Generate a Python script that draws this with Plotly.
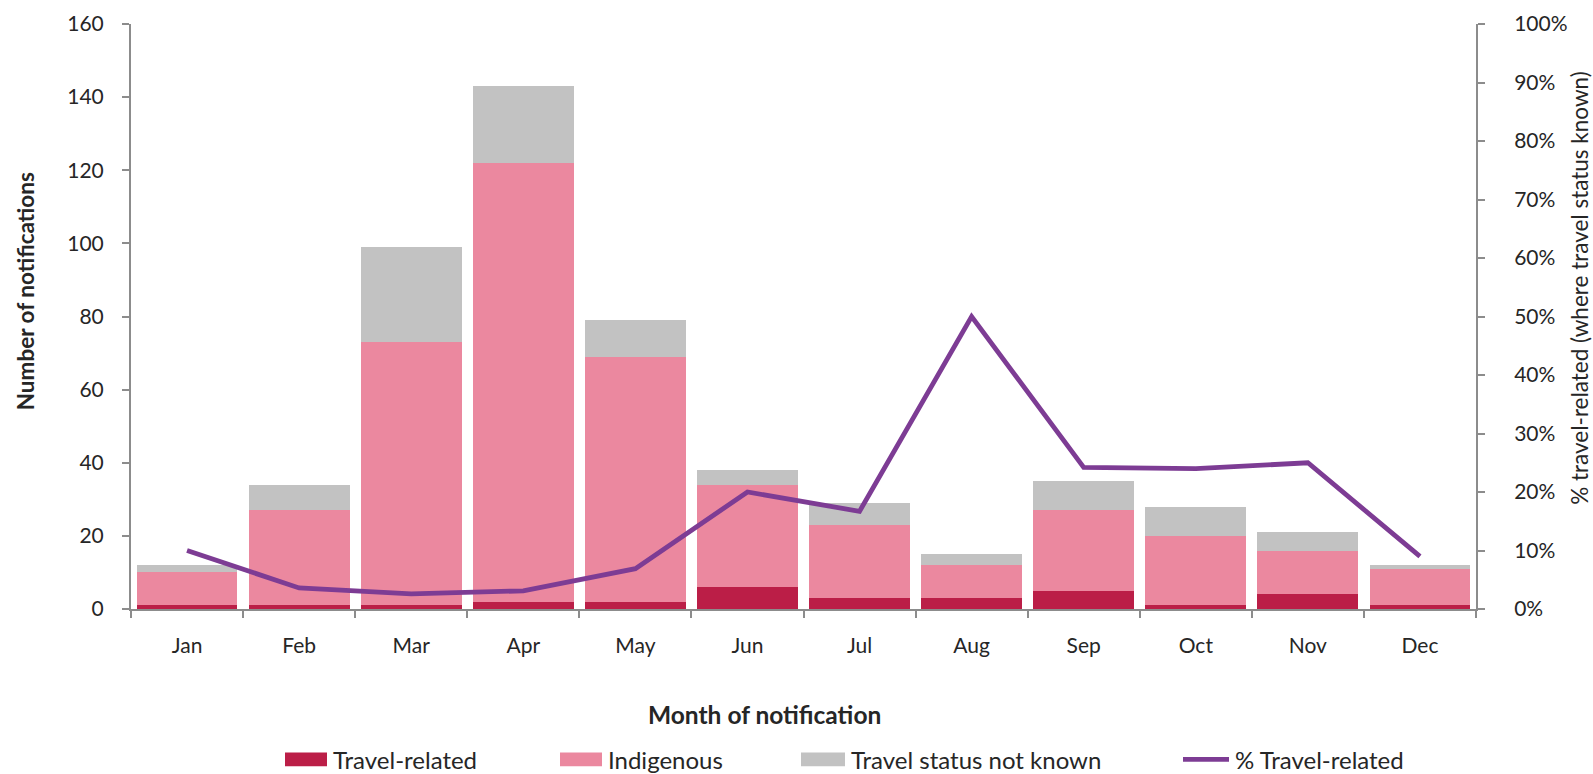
import plotly.graph_objects as go

# -------------------------------------------------
# Data
# -------------------------------------------------
months = ["Jan", "Feb", "Mar", "Apr", "May", "Jun",
          "Jul", "Aug", "Sep", "Oct", "Nov", "Dec"]

travel_related = [1, 1, 1, 2, 2, 6, 3, 3, 5, 1, 4, 1]
indigenous = [9, 26, 72, 120, 67, 28, 20, 9, 22, 19, 12, 10]
status_unknown = [2, 7, 26, 21, 10, 4, 6, 3, 8, 8, 5, 1]

pct_travel = [0.10, 0.036, 0.026, 0.031, 0.069, 0.20,
              0.167, 0.50, 0.242, 0.24, 0.25, 0.09]

FONT = "Lato, 'Open Sans', sans-serif"
TEXT = "#262626"
AXIS_GREY = "#8c8c8c"

C_TRAVEL = "#bb1e47"
C_INDIG = "#eb889f"
C_UNKNOWN = "#c2c2c2"
C_LINE = "#7d3c94"

# plot area in pixels
W, H = 1593, 774
L, R, T, B = 131, 1476, 24, 609.5


def px_x(x):
    return (x - L) / (R - L)


def px_y(y):
    return (B - y) / (B - T)


fig = go.Figure()

fig.add_trace(go.Bar(x=months, y=travel_related, name="Travel-related",
                     marker=dict(color=C_TRAVEL, line_width=0)))
fig.add_trace(go.Bar(x=months, y=indigenous, name="Indigenous",
                     marker=dict(color=C_INDIG, line_width=0)))
fig.add_trace(go.Bar(x=months, y=status_unknown, name="Travel status not known",
                     marker=dict(color=C_UNKNOWN, line_width=0)))

fig.add_trace(go.Scatter(x=months, y=pct_travel, name="% Travel-related",
                         mode="lines", yaxis="y2",
                         line=dict(color=C_LINE, width=4.8)))

axis_common = dict(
    showline=True, linecolor=AXIS_GREY, linewidth=2,
    ticks="outside", tickcolor=AXIS_GREY, ticklen=7, tickwidth=2,
    showgrid=False, zeroline=False, automargin=False,
)

fig.update_layout(
    width=W,
    height=H,
    barmode="stack",
    bargap=0.1,
    showlegend=False,
    plot_bgcolor="white",
    paper_bgcolor="white",
    font=dict(family=FONT, size=21, color=TEXT),
    margin=dict(l=L, r=W - R, t=T, b=H - B),
    xaxis=dict(tickson="boundaries", ticklabelstandoff=17, **axis_common),
    yaxis=dict(range=[0, 160], dtick=20, ticklabelstandoff=14, **axis_common),
    yaxis2=dict(range=[0, 1], dtick=0.1, tickformat=".0%",
                overlaying="y", side="right", ticklabelstandoff=25,
                **axis_common),
)

# axis titles
fig.add_annotation(text="<b>Month of notification</b>", xref="paper", yref="paper",
                   x=px_x(764), y=px_y(715), showarrow=False,
                   font=dict(size=24.5), xanchor="center", yanchor="middle")
fig.add_annotation(text="<b>Number of notifications</b>", xref="paper", yref="paper",
                   x=px_x(25.5), y=px_y(292), showarrow=False, textangle=-90,
                   font=dict(size=22.5), xanchor="center", yanchor="middle")
fig.add_annotation(text="% travel-related (where travel status known)",
                   xref="paper", yref="paper",
                   x=px_x(1580), y=px_y(288), showarrow=False, textangle=-90,
                   font=dict(size=22.5), xanchor="center", yanchor="middle")

# legend (drawn by hand to get the wide Excel-style keys)
legend_y = 760
legend_items = [
    ("Travel-related", C_TRAVEL, "rect", 285, 327),
    ("Indigenous", C_INDIG, "rect", 560, 602),
    ("Travel status not known", C_UNKNOWN, "rect", 801, 845),
    ("% Travel-related", C_LINE, "line", 1183, 1229),
]
for label, color, kind, x0, x1 in legend_items:
    if kind == "rect":
        fig.add_shape(type="rect", xref="paper", yref="paper",
                      x0=px_x(x0), x1=px_x(x1),
                      y0=px_y(legend_y - 7), y1=px_y(legend_y + 7),
                      fillcolor=color, line_width=0)
    else:
        fig.add_shape(type="line", xref="paper", yref="paper",
                      x0=px_x(x0), x1=px_x(x1),
                      y0=px_y(legend_y), y1=px_y(legend_y),
                      line=dict(color=color, width=4.8))
    fig.add_annotation(text=label, xref="paper", yref="paper",
                       x=px_x(x1 + 4), y=px_y(legend_y), showarrow=False,
                       font=dict(size=24), xanchor="left", yanchor="middle")

fig.write_html("out.html", config={"displayModeBar": False},
               post_script="document.body.style.margin = '0';")
